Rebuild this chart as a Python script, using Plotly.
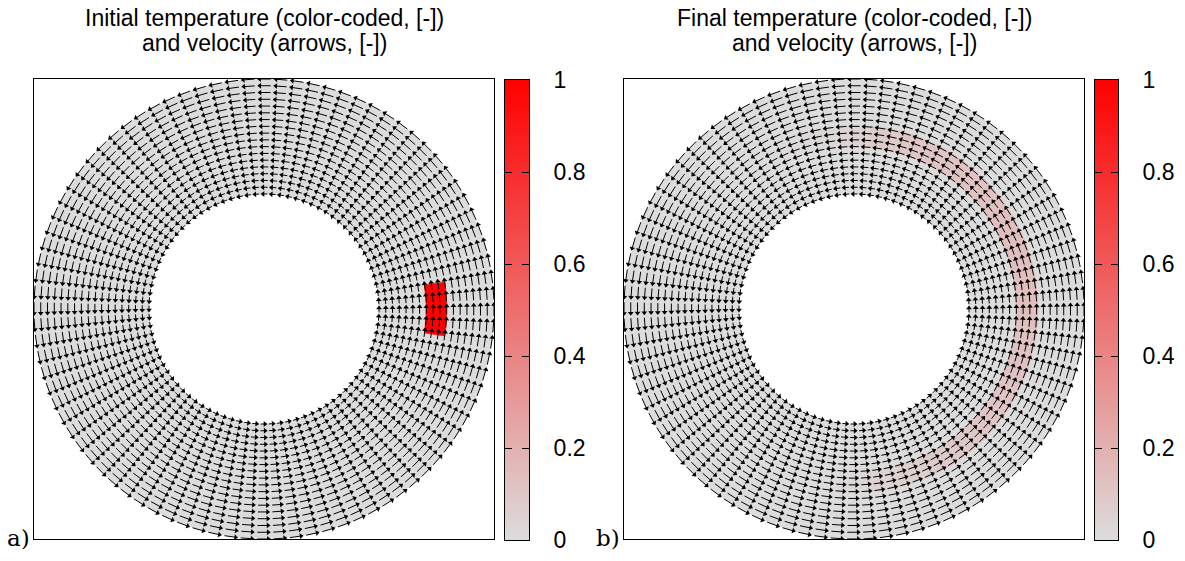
import numpy as np
import plotly.graph_objects as go
from plotly.colors import sample_colorscale

# ---------------- data ----------------
inner_radius = 0.5
outer_radius = 1.0
ring_count = 18          # velocity sample rings between inner and outer radius
ray_count = 88           # velocity sample rays around the shell
angular_velocity = 1.0   # solid-body rotation, counter-clockwise
arrow_scale = 0.06       # arrow length per unit speed (data units)

# initial hot block (temperature 1) on the right side of the shell
initial_patch_r = [0.705, 0.795]
initial_patch_theta_deg = [-8.5, 8.5]
initial_patch_value = 1.0

# final temperature: diffused arc, value per 10-degree bin
final_arc_r = [0.705, 0.80]
final_arc_theta_edges_deg = [-95, -85, -75, -65, -55, -45, -35, -25, -15, -5, 5,
                             15, 25, 35, 45, 55, 65, 75, 85, 95, 105, 115]
final_arc_values = [0.02, 0.04, 0.06, 0.08, 0.09, 0.10, 0.11, 0.12, 0.12, 0.13, 0.13,
                    0.13, 0.13, 0.12, 0.12, 0.11, 0.10, 0.08, 0.04, 0.02, 0.01]

colorbar_tickvals = [0, 0.2, 0.4, 0.6, 0.8, 1]
colorbar_ticktext = ["0", "0.2", "0.4", "0.6", "0.8", "1"]

panel_titles = [
    ("Initial temperature (color-coded, [-])", "and velocity (arrows, [-])"),
    ("Final temperature (color-coded, [-])", "and velocity (arrows, [-])"),
]
panel_labels = ["a)", "b)"]

# ---------------- styling ----------------
W, H = 1185, 561
temp_scale = [[0.0, "rgb(220,220,220)"], [1.0, "rgb(255,0,0)"]]
sans = "Liberation Sans, Arial, sans-serif"
serif = "DejaVu Serif, serif"

# pixel boxes (left, right, top, bottom)
panel_px = [(34, 494, 79, 539), (624, 1084, 79, 539)]
cbar_px = [(505, 529, 80, 540), (1095, 1118, 80, 540)]


def xdom(l, r):
    return [l / W, r / W]


def ydom(t, b):
    return [(H - b) / H, (H - t) / H]


def sector(r0, r1, t0, t1, n=60):
    t = np.radians(np.linspace(t0, t1, n))
    xs = np.concatenate([r1 * np.cos(t), r0 * np.cos(t[::-1])])
    ys = np.concatenate([r1 * np.sin(t), r0 * np.sin(t[::-1])])
    return np.append(xs, xs[0]), np.append(ys, ys[0])


def color_of(v):
    return sample_colorscale(temp_scale, [v])[0]


fig = go.Figure()

px_per_unit = (panel_px[0][1] - panel_px[0][0]) / 2.0
head_len = 5.0 / px_per_unit

# velocity samples on a polar grid
radii = np.linspace(inner_radius, outer_radius, ring_count)
thetas = np.arange(ray_count) * 2 * np.pi / ray_count
R, TH = np.meshgrid(radii, thetas)
X = (R * np.cos(TH)).ravel()
Y = (R * np.sin(TH)).ravel()
U = -angular_velocity * Y
V = angular_velocity * X
speed = np.hypot(U, V)
dx, dy = U / speed, V / speed
L = arrow_scale * speed
tail_x, tail_y = X - 0.5 * L * dx, Y - 0.5 * L * dy
tip_x, tip_y = X + 0.5 * L * dx, Y + 0.5 * L * dy
shaft_x, shaft_y = tip_x - 0.6 * head_len * dx, tip_y - 0.6 * head_len * dy
head_x, head_y = tip_x - 0.5 * head_len * dx, tip_y - 0.5 * head_len * dy
head_angle = 90.0 - np.degrees(np.arctan2(dy, dx))

seg_x = np.column_stack([tail_x, shaft_x, np.full_like(X, np.nan)]).ravel()
seg_y = np.column_stack([tail_y, shaft_y, np.full_like(Y, np.nan)]).ravel()

to = np.linspace(0, 2 * np.pi, 361)
ox, oy = outer_radius * np.cos(to), outer_radius * np.sin(to)
ix, iy = inner_radius * np.cos(to[::-1]), inner_radius * np.sin(to[::-1])

for k in range(2):
    xa = "x" if k == 0 else "x2"
    ya = "y" if k == 0 else "y2"

    # gray shell (temperature 0)
    fig.add_trace(go.Scatter(
        x=np.concatenate([ox, ix, [ox[0]]]), y=np.concatenate([oy, iy, [oy[0]]]),
        mode="lines", fill="toself", fillcolor=color_of(0.0),
        line=dict(width=0, color=color_of(0.0)), hoverinfo="skip",
        showlegend=False, xaxis=xa, yaxis=ya))

    # temperature field
    if k == 0:
        sx, sy = sector(initial_patch_r[0], initial_patch_r[1],
                        initial_patch_theta_deg[0], initial_patch_theta_deg[1])
        c = color_of(initial_patch_value)
        fig.add_trace(go.Scatter(x=sx, y=sy, mode="lines", fill="toself",
                                 fillcolor=c, line=dict(width=0.5, color=c),
                                 hoverinfo="skip", showlegend=False,
                                 xaxis=xa, yaxis=ya))
    else:
        for i, val in enumerate(final_arc_values):
            sx, sy = sector(final_arc_r[0], final_arc_r[1],
                            final_arc_theta_edges_deg[i], final_arc_theta_edges_deg[i + 1], 20)
            c = color_of(val)
            fig.add_trace(go.Scatter(x=sx, y=sy, mode="lines", fill="toself",
                                     fillcolor=c, line=dict(width=0.6, color=c),
                                     hoverinfo="skip", showlegend=False,
                                     xaxis=xa, yaxis=ya))

    # velocity arrows
    fig.add_trace(go.Scatter(x=seg_x, y=seg_y, mode="lines",
                             line=dict(color="black", width=1.0),
                             hoverinfo="skip", showlegend=False,
                             xaxis=xa, yaxis=ya))
    fig.add_trace(go.Scatter(x=head_x, y=head_y, mode="markers",
                             marker=dict(symbol="triangle-up", size=5, color="black",
                                         angle=head_angle, line=dict(width=0)),
                             hoverinfo="skip", showlegend=False,
                             xaxis=xa, yaxis=ya))

# colorbars drawn as thin heatmaps
levels = np.linspace(0, 1, 201)
for k in range(2):
    xa = "x3" if k == 0 else "x4"
    ya = "y3" if k == 0 else "y4"
    fig.add_trace(go.Heatmap(x=[0], y=levels, z=levels[:, None],
                             colorscale=temp_scale, zmin=0, zmax=1,
                             showscale=False, hoverinfo="skip",
                             xaxis=xa, yaxis=ya))

layout = dict(
    width=W, height=H, margin=dict(l=0, r=0, t=0, b=0, autoexpand=False),
    paper_bgcolor="white", plot_bgcolor="white", showlegend=False,
)

box_axis = dict(range=[-1, 1], showline=True, mirror=True, linecolor="black",
                linewidth=1, showgrid=False, zeroline=False, ticks="",
                showticklabels=False, fixedrange=True, automargin=False)

for k, (l, r, t, b) in enumerate(panel_px):
    sfx = "" if k == 0 else "2"
    layout["xaxis" + sfx] = dict(box_axis, domain=xdom(l, r), anchor="y" + sfx)
    layout["yaxis" + sfx] = dict(box_axis, domain=ydom(t, b), anchor="x" + sfx)

for k, (l, r, t, b) in enumerate(cbar_px):
    sfx = "3" if k == 0 else "4"
    layout["xaxis" + sfx] = dict(domain=xdom(l, r), anchor="y" + sfx, range=[-0.5, 0.5],
                                 showline=True, mirror=True, linecolor="black",
                                 linewidth=1, showgrid=False, zeroline=False,
                                 ticks="", showticklabels=False, fixedrange=True,
                                 automargin=False)
    layout["yaxis" + sfx] = dict(domain=ydom(t, b), anchor="x" + sfx, range=[0, 1],
                                 side="right", showline=True, mirror="ticks",
                                 linecolor="black", linewidth=1, showgrid=False,
                                 zeroline=False, ticks="inside", ticklen=7,
                                 tickwidth=1, tickcolor="black",
                                 tickvals=colorbar_tickvals, ticktext=colorbar_ticktext,
                                 tickfont=dict(family=sans, size=23, color="black"),
                                 ticklabelstandoff=19, fixedrange=True, automargin=False)

annotations = []
for k, (l, r, t, b) in enumerate(panel_px):
    cx = (l + r) / 2 / W
    for line, ypx in zip(panel_titles[k], (18, 43)):
        annotations.append(dict(text=line, x=cx, y=(H - ypx) / H, xref="paper", yref="paper",
                                xanchor="center", yanchor="middle", showarrow=False,
                                font=dict(family=sans, size=23, color="black")))
    annotations.append(dict(text=panel_labels[k], x=(l - 2) / W, y=(H - 538) / H,
                            xref="paper", yref="paper", xanchor="right", yanchor="middle",
                            showarrow=False, font=dict(family=serif, size=23, color="black")))
layout["annotations"] = annotations

fig.update_layout(**layout)
fig.write_html("out.html")
